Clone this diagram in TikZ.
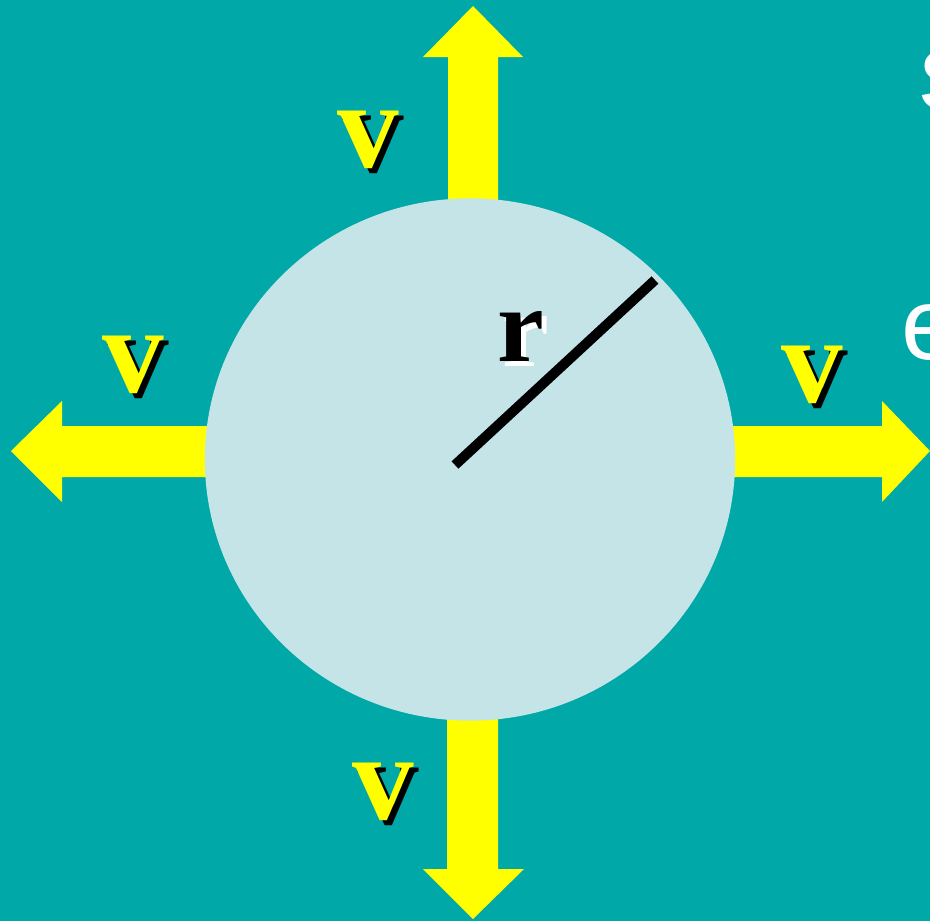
\documentclass[tikz,border=0pt]{standalone}
\usepackage{fontspec}
\setmainfont{Liberation Serif}
\newfontfamily\slidesans{Liberation Sans}
\usepackage{tikz}
\definecolor{slideteal}{RGB}{0,168,168}
\definecolor{ballblue}{RGB}{197,228,232}
\definecolor{arrowyellow}{RGB}{255,255,0}
\tikzset{
  blockarrow/.style={fill=arrowyellow, draw=none},
  ball/.style={ellipse, fill=ballblue, draw=none, inner sep=0pt, minimum width=5.30cm, minimum height=5.22cm},
  radiusline/.style={draw=black, line width=0.10cm},
  vlabel/.style={text=arrowyellow, inner sep=0pt, font=\fontsize{35}{40}\selectfont\bfseries},
  vshadow/.style={vlabel, text=black},
  rlabel/.style={text=black, inner sep=0pt, font=\fontsize{30}{36}\selectfont\bfseries},
  rshadow/.style={rlabel, text=white},
  edgetext/.style={text=white, inner sep=0pt, anchor=base west}
}
\usetikzlibrary{shapes.geometric}
\begin{document}
\begin{tikzpicture}[x=0.01cm, y=-0.01cm]
    \useasboundingbox[fill=slideteal] (0,0) rectangle (930,921);
    \clip (0,0) rectangle (930,921);
    % block arrows, under the ball
    \fill[blockarrow] (448,300) -- (448,57) -- (423,57) -- (473,6) -- (523,57) -- (498,57) -- (498,300) -- cycle;
    \fill[blockarrow] (447,600) -- (447,869) -- (423,869) -- (473,919) -- (524,869) -- (498,869) -- (498,600) -- cycle;
    \fill[blockarrow] (300,426) -- (62,426) -- (62,401) -- (11,451) -- (62,502) -- (62,477) -- (300,477) -- cycle;
    \fill[blockarrow] (640,426) -- (882,426) -- (882,401) -- (930,451) -- (882,502) -- (882,477) -- (640,477) -- cycle;
    % ball and radius
    \node[ball] (ball) at (470,459.5) {};
    \coordinate (rstart) at (455,465);
    \coordinate (rend) at (655,280);
    \draw[radiusline] (rstart) -- (rend);
    \node[rshadow] (rtagshadow) at (526,342) {r};
    \node[rlabel] (rtag) at (521,337) {r};
    % speed labels
    \node[vshadow] (vtopshadow) at (373,145) {v};
    \node[vlabel] (vtop) at (368,140) {v};
    \node[vshadow] (vleftshadow) at (138,370) {v};
    \node[vlabel] (vleft) at (133,365) {v};
    \node[vshadow] (vrightshadow) at (817,380) {v};
    \node[vlabel] (vright) at (812,375) {v};
    \node[vshadow] (vbottomshadow) at (388,797) {v};
    \node[vlabel] (vbottom) at (383,792) {v};
    % cut-off slide text at the right edge
    \node[edgetext, font=\slidesans\fontsize{24}{28}\selectfont] (sletter) at (918,110) {S};
    \node[edgetext, font=\slidesans\fontsize{29}{34}\selectfont] (eletter) at (901,359) {e};
\end{tikzpicture}
\end{document}
